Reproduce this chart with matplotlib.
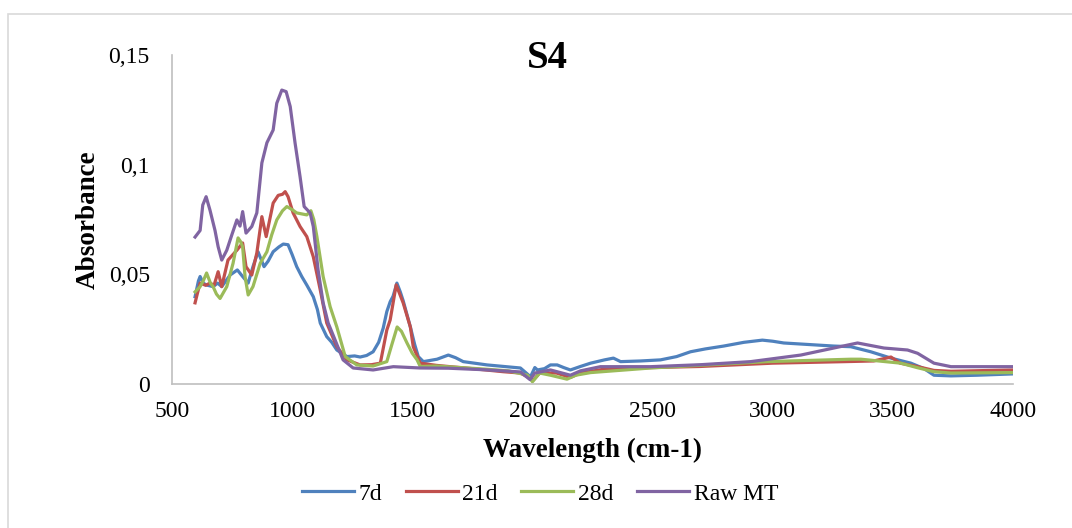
import matplotlib.pyplot as plt
from matplotlib.patches import Rectangle

plt.rcParams['font.family'] = ['Liberation Serif', 'DejaVu Serif']

# 7d
wn_7d = [596, 610, 617, 630, 644, 671, 690, 707, 742, 772, 794, 817, 837, 858, 883, 900, 921, 945,
         963, 983, 1000, 1019, 1040, 1061, 1088, 1105, 1117, 1144, 1165, 1186, 1228, 1260, 1283, 1310,
         1337, 1360, 1379, 1394, 1408, 1420, 1436, 1450, 1462, 1492, 1510, 1525, 1546, 1603, 1650, 1680,
         1712, 1811, 1900, 1950, 1992, 2010, 2021, 2050, 2075, 2103, 2130, 2158, 2200, 2242, 2300, 2337,
         2367, 2450, 2533, 2600, 2658, 2720, 2796, 2880, 2957, 3000, 3046, 3150, 3254, 3325, 3408, 3492,
         3575, 3630, 3671, 3742, 3850, 4000]
abs_7d = [0.0398, 0.047, 0.049, 0.046, 0.0451, 0.0444, 0.046, 0.0444, 0.0497, 0.052, 0.049, 0.046,
          0.0535, 0.0603, 0.0535, 0.056, 0.0603, 0.0625, 0.0638, 0.0635, 0.059, 0.0535, 0.049, 0.0451,
          0.0398, 0.034, 0.0278, 0.0216, 0.019, 0.0155, 0.0125, 0.0128, 0.0123, 0.013, 0.0147, 0.019,
          0.0255, 0.033, 0.0375, 0.040, 0.046, 0.042, 0.038, 0.026, 0.018, 0.0125, 0.0102, 0.0113, 0.0132,
          0.012, 0.0102, 0.0087, 0.0078, 0.0073, 0.0033, 0.0075, 0.0064, 0.007, 0.0087, 0.0087, 0.0075,
          0.0064, 0.008, 0.0095, 0.011, 0.0118, 0.0102, 0.0105, 0.011, 0.0125, 0.0147, 0.016, 0.0173,
          0.019, 0.020, 0.0195, 0.0187, 0.018, 0.0173, 0.017, 0.0147, 0.0118, 0.0095, 0.007, 0.004,
          0.0037, 0.004, 0.0046]

# 21d
wn_21d = [596, 605, 617, 640, 658, 675, 692, 707, 733, 770, 794, 808, 832, 853, 874, 892, 921, 942,
          960, 971, 983, 1004, 1033, 1061, 1088, 1117, 1144, 1186, 1228, 1283, 1330, 1367, 1394, 1408,
          1433, 1462, 1492, 1504, 1533, 1600, 1658, 1750, 1879, 1950, 2004, 2030, 2100, 2158, 2200, 2300,
          2500, 2700, 3000, 3300, 3420, 3492, 3530, 3600, 3671, 3742, 4000]
abs_21d = [0.037, 0.041, 0.046, 0.045, 0.046, 0.045, 0.0512, 0.0444, 0.0565, 0.061, 0.0643, 0.0535,
           0.0497, 0.0597, 0.0763, 0.0672, 0.0825, 0.086, 0.0865, 0.0877, 0.0854, 0.078, 0.0718, 0.0672,
           0.058, 0.0429, 0.0278, 0.017, 0.011, 0.0087, 0.0088, 0.0095, 0.0246, 0.0292, 0.0452, 0.037,
           0.026, 0.017, 0.0095, 0.0085, 0.0079, 0.007, 0.0056, 0.005, 0.0018, 0.005, 0.005, 0.003,
           0.005, 0.0068, 0.0075, 0.008, 0.0095, 0.0102, 0.0105, 0.0123, 0.0095, 0.008, 0.0062, 0.0058,
           0.0064]

# 28d
wn_28d = [596, 617, 630, 644, 660, 671, 685, 700, 728, 754, 775, 785, 794, 804, 817, 837, 867, 895,
          915, 936, 960, 978, 1000, 1019, 1061, 1078, 1090, 1103, 1129, 1158, 1186, 1221, 1269, 1337,
          1394, 1415, 1437, 1455, 1478, 1500, 1520, 1533, 1600, 1700, 1800, 1900, 1980, 2000, 2030, 2075,
          2144, 2180, 2242, 2492, 2978, 3325, 3367, 3533, 3600, 3671, 3742, 4000]
abs_28d = [0.042, 0.0444, 0.047, 0.0506, 0.046, 0.0444, 0.041, 0.039, 0.0444, 0.055, 0.0666, 0.065,
           0.0626, 0.049, 0.0406, 0.0444, 0.055, 0.0603, 0.068, 0.0748, 0.079, 0.0809, 0.0795, 0.078,
           0.0771, 0.079, 0.075, 0.0672, 0.049, 0.0353, 0.026, 0.0125, 0.0087, 0.0082, 0.0102, 0.018,
           0.026, 0.024, 0.0187, 0.014, 0.011, 0.008, 0.0082, 0.0075, 0.0068, 0.006, 0.004, 0.001, 0.005,
           0.004, 0.0022, 0.004, 0.0052, 0.0073, 0.0102, 0.0113, 0.0113, 0.0095, 0.0075, 0.0056, 0.005,
           0.0052]

# Raw MT
wn_raw = [596, 617, 628, 642, 658, 679, 692, 707, 728, 749, 770, 783, 794, 808, 832, 853, 874, 895,
          921, 936, 957, 975, 992, 1012, 1033, 1050, 1075, 1088, 1108, 1129, 1150, 1179, 1212, 1254,
          1337, 1421, 1533, 1650, 1800, 1950, 1990, 2010, 2075, 2158, 2200, 2283, 2492, 2700, 2908, 3117,
          3254, 3353, 3463, 3561, 3603, 3671, 3742, 4000]
abs_raw = [0.067, 0.070, 0.0816, 0.0854, 0.0793, 0.070, 0.0626, 0.0565, 0.061, 0.068, 0.0748, 0.072,
           0.0786, 0.0688, 0.0718, 0.078, 0.1008, 0.110, 0.1158, 0.128, 0.134, 0.1333, 0.1265, 0.110,
           0.0945, 0.0809, 0.078, 0.0718, 0.052, 0.037, 0.0278, 0.020, 0.011, 0.0073, 0.0064, 0.0079,
           0.0073, 0.0072, 0.0065, 0.0055, 0.002, 0.005, 0.0064, 0.004, 0.006, 0.0079, 0.0079, 0.0088,
           0.0102, 0.0132, 0.0164, 0.0187, 0.0164, 0.0155, 0.014, 0.0095, 0.0079, 0.0079]

x_ticks = [500, 1000, 1500, 2000, 2500, 3000, 3500, 4000]
y_ticks = [0, 0.05, 0.1, 0.15]
y_labels = ['0', '0,05', '0,1', '0,15']

fig = plt.figure(figsize=(10.72, 5.28), dpi=100)
ax = fig.add_axes([172 / 1072, 1 - 384 / 528, (1013 - 172) / 1072, (384 - 55) / 528])

# chart area border (Excel style)
fig.patches.append(Rectangle((8 / 1072, -0.1), 1.2, 1 - 14 / 528 + 0.1, transform=fig.transFigure,
                             fill=False, edgecolor='#d9d9d9', linewidth=1.2))

lw = 2.3
ax.plot(wn_7d, abs_7d, color='#4f81bd', lw=lw, label='7d', solid_joinstyle='round')
ax.plot(wn_21d, abs_21d, color='#c0504d', lw=lw, label='21d', solid_joinstyle='round')
ax.plot(wn_28d, abs_28d, color='#9bbb59', lw=lw, label='28d', solid_joinstyle='round')
ax.plot(wn_raw, abs_raw, color='#8064a2', lw=lw, label='Raw MT', solid_joinstyle='round')

ax.set_xlim(500, 4000)
ax.set_ylim(0, 0.15)
ax.set_xticks(x_ticks)
ax.set_yticks(y_ticks)
ax.set_yticklabels(y_labels)
ax.tick_params(length=0, labelsize=17)
ax.tick_params(axis='y', pad=16)
ax.tick_params(axis='x', pad=12)
for s in ['top', 'right']:
    ax.spines[s].set_visible(False)
for s in ['left', 'bottom']:
    ax.spines[s].set_color('#bfbfbf')
    ax.spines[s].set_linewidth(1.2)

fig.text(547 / 1072, 1 - 58 / 528, 'S4', fontsize=28, fontweight='bold', ha='center', va='center')
fig.text(88 / 1072, 1 - 220 / 528, 'Absorbance', fontsize=19.5, fontweight='bold', rotation=90,
         ha='center', va='center')
fig.text(593 / 1072, 1 - 450 / 528, 'Wavelength (cm-1)', fontsize=19.5, fontweight='bold',
         ha='center', va='center')

fig.legend(loc='center', bbox_to_anchor=(540 / 1072, 1 - 494 / 528), ncol=4, frameon=False,
           fontsize=17, handlelength=2.2, columnspacing=1.0, handletextpad=0.2)

fig.savefig('out.png', dpi=100)
